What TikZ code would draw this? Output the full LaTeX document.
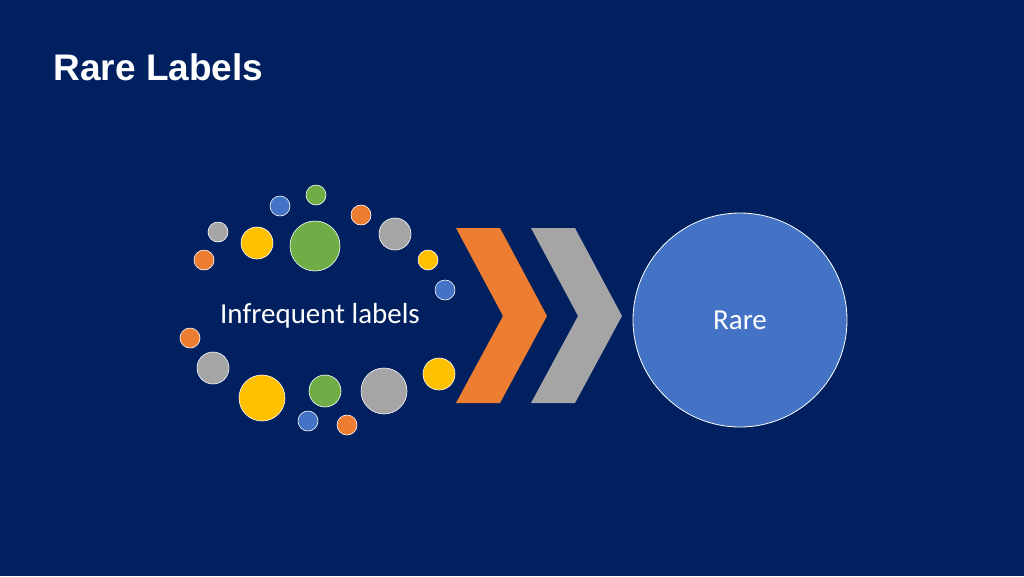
\documentclass[tikz,border=0pt]{standalone}
\usepackage{fontspec}
\setmainfont{Carlito}
\newfontfamily\titlefont{Liberation Sans}
\definecolor{bg}{HTML}{002060}
\definecolor{cor}{HTML}{ED7D31}
\definecolor{cgy}{HTML}{A5A5A5}
\definecolor{cyl}{HTML}{FFC000}
\definecolor{cgn}{HTML}{70AD47}
\definecolor{cbl}{HTML}{4472C4}
\begin{document}
\begin{tikzpicture}[x=1pt,y=-1pt,
  dot/.style={circle,draw=white,line width=0.6pt,inner sep=0pt},
  chev/.style={draw=none}]
\fill[bg] (0,0) rectangle (1024,576);
\useasboundingbox (0,0) rectangle (1024,576);
\node[anchor=base west,text=white,font=\titlefont\bfseries\fontsize{37}{40}\selectfont] (title) at (50,80) {Rare Labels};
\foreach \x/\y/\r/\c [count=\i] in {315/246/25/cgn,316/195/10/cgn,280/206/10/cbl,361/215/10/cor,395/234/16/cgy,218/232/10/cgy,257/243/16/cyl,204/260/10/cor,428/260/10/cyl,445/290/10/cbl,190/338/10/cor,213/368/16/cgy,262/398/23/cyl,325/391/16/cgn,384/391/23/cgy,439/374/16/cyl,308/421/10/cbl,347/425/10/cor}
  \node[dot,fill=\c,minimum size=2*\r] (d\i) at (\x,\y) {};
\node[text=white,font=\fontsize{29}{32}\selectfont] (inf) at (320,316) {Infrequent labels};
\fill[cor] (456,228) -- (500,228) -- (547,316) -- (500,403) -- (456,403) -- (503,316) -- cycle;
\fill[cgy] (531,228) -- (575,228) -- (622,316) -- (575,403) -- (531,403) -- (578,316) -- cycle;
\node[circle,fill=cbl,draw=white,line width=0.8pt,minimum size=214,text=white,font=\fontsize{29}{32}\selectfont] (rare) at (740,320) {Rare};
\end{tikzpicture}
\end{document}
